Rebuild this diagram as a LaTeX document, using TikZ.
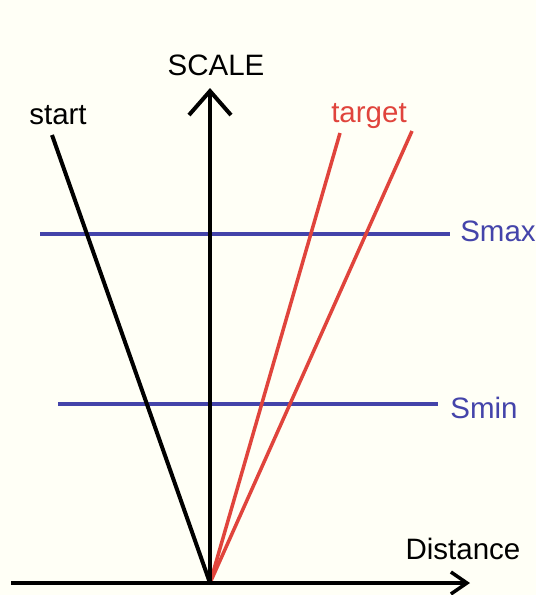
\documentclass[tikz,border=0pt]{standalone}
\usepackage{fontspec}
\setmainfont{Liberation Sans}
\usetikzlibrary{arrows.meta}
\definecolor{paper}{HTML}{FFFFF6}
\definecolor{tgtred}{HTML}{E0443C}
\definecolor{limblue}{HTML}{4444AA}
\tikzset{
  lbl/.style={font=\fontsize{29.5}{33}\selectfont, inner sep=0pt},
  axis/.style={black, line width=4pt},
}

\begin{document}
\begin{tikzpicture}[x=1pt, y=-1pt]
            % Background and frame
            \fill[paper] (0,0) rectangle (536,595);
            \useasboundingbox (0,0) rectangle (536,595);
            % Points of the lines
            \coordinate (O) at (210,583);
            \coordinate (xl) at (11,583);
            \coordinate (xr) at (470,583);
            \coordinate (yt) at (210,88);
            \coordinate (s) at (52,135);
            \coordinate (t1) at (340,133);
            \coordinate (t2) at (412,131);
            \coordinate (maxl) at (40,234);
            \coordinate (maxr) at (450,234);
            \coordinate (minl) at (58,404);
            \coordinate (minr) at (438,404);
            % Labels
            \node[lbl] (scale) at (216,65) {SCALE};
            \node[lbl] (start) at (58,115) {start};
            \node[lbl, text=tgtred] (target) at (369,116) {target};
            \node[lbl, text=limblue] (smax) at (498,231) {Smax};
            \node[lbl, text=limblue] (smin) at (484,408) {Smin};
            \node[lbl] (dist) at (463,549) {Distance};
            % Limits
            \draw[limblue, line width=3.5pt] (maxl) -- (maxr);
            \draw[limblue, line width=3.5pt] (minl) -- (minr);
            % Start and targets
            \draw[black, line width=4pt] (s) -- (O);
            \draw[tgtred, line width=3.5pt] (O) -- (t1);
            \draw[tgtred, line width=3.5pt] (O) -- (t2);
            % Axes
            \draw[axis, -{Straight Barb[length=16pt, width=22pt, line width=3.5pt]}] (xl) -- (xr);
            \draw[axis, -{Straight Barb[length=24pt, width=42pt, line width=4pt]}] (O) -- (yt);
\end{tikzpicture}
\end{document}
